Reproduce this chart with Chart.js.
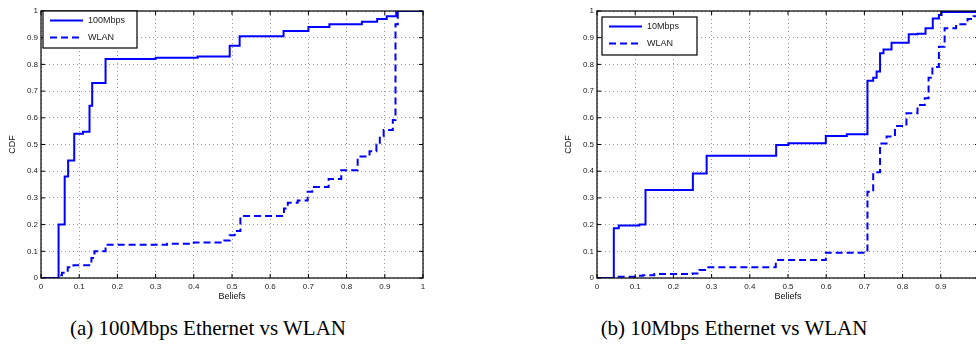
<!DOCTYPE html>
<html>
<head>
<meta charset="utf-8">
<script src="https://cdn.jsdelivr.net/npm/chart.js@4"></script>
<style>
  body { margin: 0; width: 976px; height: 356px; overflow: hidden; background: #fff; position: relative; }
  .box { position: absolute; top: 0; width: 470px; height: 305px; }
  .cap { position: absolute; top: 316px; font-family: "Liberation Serif", serif; font-size: 21px; color: #000; white-space: nowrap; transform: translateX(-50%); }
</style>
</head>
<body>
<div class="box" style="left:0"><canvas id="chartA"></canvas></div>
<div class="box" style="left:556px"><canvas id="chartB"></canvas></div>
<div class="cap" style="left:208px">(a) 100Mbps Ethernet vs WLAN</div>
<div class="cap" style="left:734px">(b) 10Mbps Ethernet vs WLAN</div>
<script>
// tick labels
const xTickLabels = ['0', '0.1', '0.2', '0.3', '0.4', '0.5', '0.6', '0.7', '0.8', '0.9', '1'];
const yTickLabels = ['0', '0.1', '0.2', '0.3', '0.4', '0.5', '0.6', '0.7', '0.8', '0.9', '1'];

// (a) 100Mbps Ethernet vs WLAN
const aFastX = [0, 0.046, 0.062, 0.071, 0.087, 0.11, 0.127, 0.134, 0.169, 0.30, 0.41, 0.494, 0.52, 0.635, 0.70, 0.755, 0.84, 0.88, 0.905, 0.93, 1.0];
const aFastY = [0, 0.20, 0.38, 0.44, 0.54, 0.548, 0.645, 0.73, 0.82, 0.825, 0.83, 0.87, 0.905, 0.925, 0.94, 0.95, 0.96, 0.97, 0.98, 1.0, 1.0];
const aWlanX = [0, 0.046, 0.055, 0.07, 0.085, 0.132, 0.14, 0.169, 0.33, 0.40, 0.48, 0.494, 0.507, 0.522, 0.636, 0.646, 0.672, 0.698, 0.71, 0.753, 0.786, 0.829, 0.86, 0.878, 0.887, 0.897, 0.921, 0.928, 0.934, 1.0];
const aWlanY = [0, 0.01, 0.02, 0.04, 0.048, 0.075, 0.10, 0.125, 0.128, 0.133, 0.14, 0.16, 0.176, 0.232, 0.26, 0.282, 0.29, 0.323, 0.341, 0.371, 0.404, 0.455, 0.475, 0.50, 0.53, 0.554, 0.592, 0.95, 1.0, 1.0];

// (b) 10Mbps Ethernet vs WLAN
const bFastX = [0, 0.044, 0.057, 0.111, 0.127, 0.251, 0.287, 0.469, 0.501, 0.599, 0.654, 0.708, 0.723, 0.732, 0.741, 0.75, 0.771, 0.816, 0.839, 0.86, 0.879, 0.895, 0.902, 1.0];
const bFastY = [0, 0.186, 0.197, 0.2, 0.33, 0.391, 0.458, 0.498, 0.505, 0.532, 0.538, 0.739, 0.75, 0.773, 0.842, 0.856, 0.881, 0.913, 0.915, 0.935, 0.972, 0.985, 0.996, 1.0];
const bWlanX = [0, 0.044, 0.1, 0.12, 0.15, 0.25, 0.268, 0.287, 0.468, 0.599, 0.708, 0.723, 0.741, 0.758, 0.78, 0.81, 0.839, 0.858, 0.868, 0.878, 0.895, 0.91, 0.94, 0.97, 0.986, 1.0];
const bWlanY = [0, 0.005, 0.008, 0.01, 0.015, 0.017, 0.03, 0.04, 0.067, 0.095, 0.323, 0.396, 0.504, 0.53, 0.569, 0.617, 0.648, 0.673, 0.75, 0.79, 0.866, 0.935, 0.95, 0.97, 0.98, 0.99];

const blue = '#0000ff';

function pts(xs, ys) {
  return xs.map((x, i) => ({ x: x, y: ys[i] }));
}

// frame, inward ticks and boxed legend like matlab
const framePlugin = {
  id: 'frame',
  afterDraw(chart, args, opts) {
    const ctx = chart.ctx;
    const a = chart.chartArea;
    const xs = chart.scales.x, ys = chart.scales.y;
    ctx.save();
    ctx.strokeStyle = '#000';
    ctx.lineWidth = 1.2;
    ctx.setLineDash([]);
    ctx.strokeRect(a.left, a.top, a.right - a.left, a.bottom - a.top);
    ctx.lineWidth = 1;
    ctx.beginPath();
    xs.ticks.forEach(t => {
      const px = xs.getPixelForValue(t.value);
      ctx.moveTo(px, a.bottom); ctx.lineTo(px, a.bottom - 4);
      ctx.moveTo(px, a.top); ctx.lineTo(px, a.top + 4);
    });
    ys.ticks.forEach(t => {
      const py = ys.getPixelForValue(t.value);
      ctx.moveTo(a.left, py); ctx.lineTo(a.left + 4, py);
      ctx.moveTo(a.right, py); ctx.lineTo(a.right - 4, py);
    });
    ctx.stroke();

    // legend
    const bx = a.left + opts.dx, by = a.top + opts.dy;
    ctx.fillStyle = '#fff';
    ctx.fillRect(bx, by, opts.w, opts.h);
    ctx.lineWidth = 1.2;
    ctx.strokeRect(bx, by, opts.w, opts.h);
    ctx.font = '9px "Liberation Sans", Arial, sans-serif';
    ctx.textBaseline = 'middle';
    chart.data.datasets.forEach((ds, i) => {
      const ly = by + 9.5 + i * 17;
      ctx.strokeStyle = ds.borderColor;
      ctx.lineWidth = 2;
      ctx.setLineDash(ds.borderDash || []);
      ctx.beginPath();
      ctx.moveTo(bx + 7, ly); ctx.lineTo(bx + 40, ly);
      ctx.stroke();
      ctx.setLineDash([]);
      ctx.fillStyle = '#222';
      ctx.fillText(ds.label, bx + 45, ly);
    });
    ctx.restore();
  }
};

function makeChart(id, fastLabel, fastX, fastY, wlanX, wlanY, legend) {
  const tickFont = { family: '"Liberation Sans", Arial, sans-serif', size: 8 };
  new Chart(document.getElementById(id), {
    type: 'line',
    data: {
      datasets: [
        { label: fastLabel, data: pts(fastX, fastY), borderColor: blue, borderWidth: 2, stepped: true, pointRadius: 0, fill: false },
        { label: 'WLAN', data: pts(wlanX, wlanY), borderColor: blue, borderWidth: 2, borderDash: [7, 4], stepped: true, pointRadius: 0, fill: false }
      ]
    },
    options: {
      responsive: false,
      animation: false,
      events: [],
      layout: { padding: { top: 11, right: 47, bottom: 3, left: 0 } },
      plugins: {
        legend: { display: false },
        tooltip: { enabled: false },
        frame: legend
      },
      scales: {
        x: {
          type: 'linear', min: 0, max: 1,
          afterFit: s => { s.height = 24; },
          ticks: { stepSize: 0.1, padding: 4, color: '#222', font: tickFont, maxRotation: 0, callback: (v, i) => xTickLabels[i] },
          grid: { color: '#999', lineWidth: 1, drawTicks: false },
          border: { display: false, dash: [1, 3] },
          title: { display: true, text: 'Beliefs', color: '#111', font: { family: '"Liberation Sans", Arial, sans-serif', size: 9 }, padding: { top: 0, bottom: 0 } }
        },
        y: {
          type: 'linear', min: 0, max: 1,
          afterFit: s => { s.width = 41; },
          ticks: { stepSize: 0.1, padding: 3, color: '#222', font: tickFont, callback: (v, i) => yTickLabels[i] },
          grid: { color: '#999', lineWidth: 1, drawTicks: false },
          border: { display: false, dash: [1, 3] },
          title: { display: true, text: 'CDF', color: '#111', font: { family: '"Liberation Sans", Arial, sans-serif', size: 9 }, padding: { top: 7, bottom: 0 } }
        }
      }
    },
    plugins: [framePlugin]
  });
}

document.getElementById('chartA').width = 470;
document.getElementById('chartA').height = 305;
document.getElementById('chartB').width = 470;
document.getElementById('chartB').height = 305;

makeChart('chartA', '100Mbps', aFastX, aFastY, aWlanX, aWlanY, { dx: 2, dy: 0, w: 94, h: 37 });
makeChart('chartB', '10Mbps', bFastX, bFastY, bWlanX, bWlanY, { dx: 5, dy: 6, w: 95, h: 38 });
</script>
</body>
</html>
